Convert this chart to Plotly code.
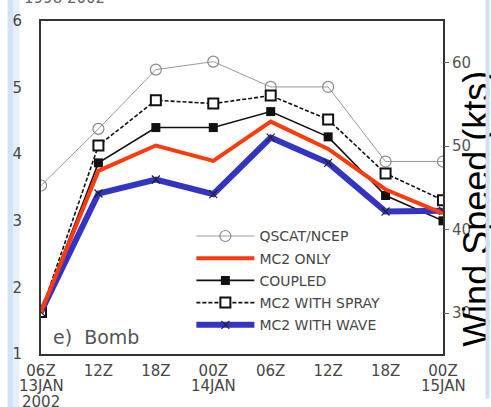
import plotly.graph_objects as go

# Time axis (6-hourly, 13-15 Jan 2002)
times = ["06Z", "12Z", "18Z", "00Z", "06Z", "12Z", "18Z", "00Z"]
date_labels = {0: "13JAN", 3: "14JAN", 7: "15JAN"}
year_label = "2002"

# Significant wave height (m), left axis
qscat_ncep = [3.53, 4.38, 5.27, 5.39, 5.01, 5.01, 3.89, 3.89]
mc2_only = [1.63, 3.75, 4.13, 3.90, 4.49, 4.08, 3.47, 3.11]
coupled = [1.63, 3.87, 4.40, 4.40, 4.64, 4.26, 3.38, 3.00]
mc2_spray = [1.63, 4.13, 4.81, 4.76, 4.88, 4.52, 3.71, 3.31]
mc2_wave = [1.63, 3.41, 3.62, 3.40, 4.25, 3.87, 3.14, 3.15]

left_ticks = [1, 2, 3, 4, 5, 6]
wind_ticks = [30, 40, 50, 60]

FONT = "DejaVu Sans"
TXT = "#474747"

x = list(range(len(times)))
fig = go.Figure()

fig.add_trace(go.Scatter(
    x=x, y=qscat_ncep, name="QSCAT/NCEP", mode="lines+markers", legendrank=1, legendgroup="a",
    line=dict(color="#9a9a9a", width=1),
    marker=dict(symbol="circle-open", size=11, color="#8a8a8a", line=dict(width=1.2)),
))
fig.add_trace(go.Scatter(
    x=x, y=coupled, name="COUPLED", mode="lines+markers", legendrank=3, legendgroup="c",
    line=dict(color="#111111", width=1.6),
    marker=dict(symbol="square", size=9, color="#111111"),
))
fig.add_trace(go.Scatter(
    x=x, y=mc2_spray, name="MC2 WITH SPRAY", mode="lines+markers", legendrank=4, legendgroup="d",
    line=dict(color="#111111", width=1.6, dash="4px,2px"),
    marker=dict(symbol="square", size=10, color="white", line=dict(color="#111111", width=2)),
))
fig.add_trace(go.Scatter(
    x=x, y=mc2_wave, name="MC2 WITH WAVE", mode="lines+markers", legendrank=5, legendgroup="e",
    line=dict(color="#3434c4", width=6),
    marker=dict(symbol="x-thin", size=8, color="#222222", line=dict(color="#222222", width=1.2)),
))
fig.add_trace(go.Scatter(
    x=x, y=mc2_only, name="MC2 ONLY", mode="lines", legendrank=2, legendgroup="b",
    line=dict(color="#ff3a0c", width=4),
))
# empty trace that carries the wind-speed axis on the right
fig.add_trace(go.Scatter(x=[None], y=[None], yaxis="y2", showlegend=False,
                         hoverinfo="skip", mode="lines"))

annotations = []
# date rows beneath the hour labels
for i, lab in date_labels.items():
    annotations.append(dict(x=i, y=0, xref="x", yref="paper", text=lab, showarrow=False,
                            yanchor="middle", yshift=-32, font=dict(family=FONT, size=15, color=TXT)))
annotations.append(dict(x=0, y=0, xref="x", yref="paper", text=year_label, showarrow=False,
                        yanchor="middle", yshift=-48, font=dict(family=FONT, size=15, color=TXT)))
# panel label
annotations.append(dict(x=0.025, y=0.05, xref="paper", yref="paper", text="e)\u00a0\u00a0Bomb",
                        showarrow=False, xanchor="left", yanchor="middle",
                        font=dict(family=FONT, size=19, color="#555555")))
# partial header text at the very top
annotations.append(dict(x=(15 - 34) / 409, y=(354 - 8) / 334, xref="paper", yref="paper",
                        text="1998 2002", showarrow=False, xanchor="left", yanchor="bottom",
                        font=dict(family=FONT, size=15, color="#666666")))
# right axis title
annotations.append(dict(x=(477 - 34) / 409, y=(354 - 208) / 334, xref="paper", yref="paper",
                        text="Wind Speed (kts)", textangle=-90, showarrow=False,
                        xanchor="center", yanchor="middle",
                        font=dict(family="Liberation Sans", size=36, color="black")))
# slide edge strip on the right
annotations.append(dict(x=(491 - 34) / 409, y=0.5, xref="paper", yref="paper", text=" ",
                        showarrow=False, xanchor="right", yanchor="middle", width=3, height=420,
                        borderpad=0, bgcolor="#cfe0f6"))

shapes = [
    dict(type="rect", xref="paper", yref="paper", x0=-34 / 409, x1=(6 - 34) / 409,
         y0=-60 / 334, y1=360 / 334, fillcolor="#d3e3f6", line=dict(width=0), layer="below"),
    dict(type="rect", xref="paper", yref="paper", x0=(6 - 34) / 409, x1=(12 - 34) / 409,
         y0=-60 / 334, y1=360 / 334, fillcolor="#e6eff9", line=dict(width=0), layer="below"),
]

fig.update_layout(
    width=491, height=407,
    margin=dict(l=34, r=48, t=20, b=53),
    paper_bgcolor="white", plot_bgcolor="white",
    showlegend=True,
    legend=dict(x=(187 - 34) / 409, y=(354 - 220) / 334, xanchor="left", yanchor="top",
                bgcolor="rgba(0,0,0,0)", itemwidth=58, tracegroupgap=1,
                font=dict(family=FONT, size=14, color=TXT)),
    xaxis=dict(range=[0, 7], tickvals=x, ticktext=times, showgrid=False, zeroline=False,
               showline=True, linecolor="#333333", linewidth=2, mirror=True,
               ticks="", ticklabelstandoff=2,
               tickfont=dict(family=FONT, size=15, color=TXT)),
    yaxis=dict(range=[1, 6], tickvals=left_ticks, showgrid=False, zeroline=False,
               showline=True, linecolor="#333333", linewidth=2, mirror=True,
               ticks="", ticklabelstandoff=14,
               tickfont=dict(family=FONT, size=15, color=TXT)),
    yaxis2=dict(range=[25.1, 65.0], tickvals=wind_ticks, overlaying="y", side="right",
                showgrid=False, zeroline=False, showline=False,
                ticks="outside", ticklen=5, tickcolor="#666666", tickwidth=1,
                tickfont=dict(family=FONT, size=15, color="#555555")),
    annotations=annotations,
    shapes=shapes,
)

fig.write_html("out.html")
